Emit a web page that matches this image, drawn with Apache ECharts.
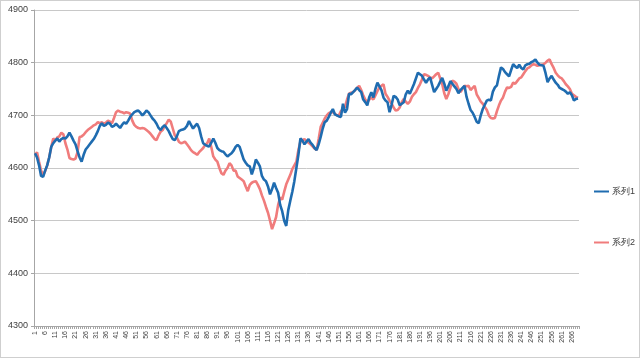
<!DOCTYPE html>
<html>
<head>
<meta charset="utf-8">
<script src="https://cdn.jsdelivr.net/npm/echarts@6/dist/echarts.min.js"></script>
<style>
html,body{margin:0;padding:0;background:#fff;}
#c{width:640px;height:358px;box-sizing:border-box;border:1px solid #cfcfcf;}
</style>
</head>
<body>
<div id="c"></div>
<script>
const seriesNames = ['系列1', '系列2'];
const yTicks = [4300, 4400, 4500, 4600, 4700, 4800, 4900];
const series1 = [
4628,4620,4605,4585,4583,4595,4605,4620,4640,4647,
4652,4656,4650,4655,4657,4656,4660,4667,4660,4652,
4645,4632,4620,4612,4625,4635,4640,4645,4650,4655,
4662,4670,4680,4685,4680,4682,4686,4684,4678,4680,
4684,4680,4676,4682,4687,4684,4690,4697,4702,4706,
4708,4709,4705,4700,4704,4709,4706,4700,4694,4690,
4684,4676,4672,4678,4681,4676,4670,4662,4655,4653,
4660,4670,4672,4673,4675,4680,4689,4682,4675,4680,
4684,4676,4660,4647,4644,4642,4641,4648,4656,4648,
4638,4634,4632,4631,4626,4622,4625,4628,4633,4640,
4644,4640,4628,4616,4610,4605,4603,4588,4600,4616,
4610,4603,4585,4578,4575,4565,4550,4560,4572,4562,
4553,4530,4518,4500,4490,4520,4538,4555,4575,4600,
4625,4656,4652,4645,4650,4655,4648,4644,4638,4634,
4645,4659,4675,4687,4690,4697,4705,4712,4702,4700,
4698,4697,4722,4705,4712,4741,4740,4744,4748,4753,
4748,4744,4730,4725,4719,4735,4744,4734,4750,4762,
4755,4748,4734,4728,4725,4706,4720,4737,4735,4730,
4719,4722,4725,4740,4747,4741,4750,4759,4770,4781,
4778,4775,4768,4762,4768,4772,4758,4744,4750,4756,
4764,4771,4760,4747,4755,4765,4760,4755,4750,4742,
4748,4752,4756,4735,4722,4710,4705,4697,4688,4685,
4700,4712,4720,4728,4730,4728,4745,4753,4757,4775,
4791,4788,4782,4778,4774,4786,4797,4793,4790,4796,
4790,4787,4795,4797,4798,4801,4803,4806,4800,4796,
4795,4794,4780,4763,4770,4775,4768,4762,4758,4752,
4750,4748,4745,4741,4744,4738,4728,4731,4732
];
const series2 = [
4625,4630,4612,4595,4587,4594,4605,4620,4640,4656,
4652,4658,4660,4667,4664,4647,4635,4619,4617,4616,
4618,4630,4659,4660,4663,4668,4672,4675,4678,4681,
4683,4687,4685,4687,4684,4686,4690,4688,4685,4695,
4706,4709,4707,4706,4704,4706,4705,4703,4690,4682,
4678,4676,4675,4676,4675,4672,4669,4665,4660,4655,
4653,4662,4669,4672,4680,4685,4692,4688,4675,4662,
4658,4650,4647,4648,4650,4645,4640,4634,4630,4628,
4625,4630,4634,4638,4644,4647,4656,4640,4622,4616,
4612,4600,4590,4587,4595,4600,4609,4605,4595,4595,
4584,4581,4578,4575,4565,4556,4568,4572,4574,4575,
4568,4560,4548,4538,4526,4515,4500,4484,4495,4507,
4530,4544,4540,4555,4569,4578,4587,4598,4605,4612,
4634,4650,4653,4655,4650,4648,4645,4641,4637,4634,
4655,4678,4686,4694,4700,4704,4706,4706,4703,4700,
4700,4708,4712,4716,4730,4741,4743,4744,4748,4752,
4756,4748,4738,4730,4725,4730,4734,4730,4738,4746,
4753,4756,4759,4741,4735,4728,4722,4715,4709,4710,
4715,4725,4731,4726,4722,4726,4735,4740,4744,4752,
4759,4768,4778,4777,4775,4772,4770,4774,4778,4781,
4770,4759,4742,4731,4740,4752,4766,4764,4760,4750,
4744,4750,4756,4755,4756,4748,4752,4756,4740,4733,
4726,4722,4716,4710,4700,4695,4694,4695,4708,4719,
4728,4734,4745,4753,4752,4754,4762,4760,4765,4770,
4772,4778,4784,4789,4791,4795,4797,4796,4794,4795,
4796,4797,4800,4804,4806,4797,4790,4781,4776,4772,
4770,4765,4759,4755,4750,4741,4738,4735,4733
];
const categories = series1.map((_, i) => String(i + 1));

const chart = echarts.init(document.getElementById('c'), null, {renderer: 'canvas'});
const font = 'Liberation Sans, Arial, sans-serif';
chart.setOption({
  animation: false,
  backgroundColor: '#fff',
  grid: {left: 33, right: 60, top: 9, bottom: 31, containLabel: false},
  legend: {
    orient: 'vertical',
    left: 593,
    top: 186,
    padding: 0,
    itemGap: 42,
    itemWidth: 15,
    itemHeight: 2,
    icon: 'rect',
    textStyle: {fontFamily: font, fontSize: 9, color: '#404040', padding: [0, 0, 0, -2]},
    data: seriesNames
  },
  xAxis: {
    type: 'category',
    data: categories,
    boundaryGap: true,
    axisLine: {lineStyle: {color: '#a6a6a6', width: 1}},
    axisTick: {show: true, interval: 0, length: 3, lineStyle: {color: '#a6a6a6'}},
    axisLabel: {interval: 4, rotate: 90, fontSize: 7, color: '#404040', fontFamily: font, margin: 5},
    splitLine: {show: false}
  },
  yAxis: {
    type: 'value',
    min: yTicks[0],
    max: yTicks[yTicks.length - 1],
    interval: 100,
    axisLine: {show: true, lineStyle: {color: '#a6a6a6', width: 1}},
    axisTick: {show: true, length: 3, lineStyle: {color: '#a6a6a6'}},
    axisLabel: {fontSize: 9, color: '#404040', fontFamily: font, margin: 6, formatter: v => String(v)},
    splitLine: {show: true, lineStyle: {color: '#c8c8c8', width: 1}}
  },
  series: [
    {
      name: seriesNames[1], type: 'line', data: series2, showSymbol: false, symbol: 'none',
      lineStyle: {color: '#f07c7c', width: 2.6}, itemStyle: {color: '#f07c7c'}, z: 2
    },
    {
      name: seriesNames[0], type: 'line', data: series1, showSymbol: false, symbol: 'none',
      lineStyle: {color: '#1f6cb0', width: 2.6}, itemStyle: {color: '#1f6cb0'}, z: 3
    }
  ]
});
</script>
</body>
</html>
